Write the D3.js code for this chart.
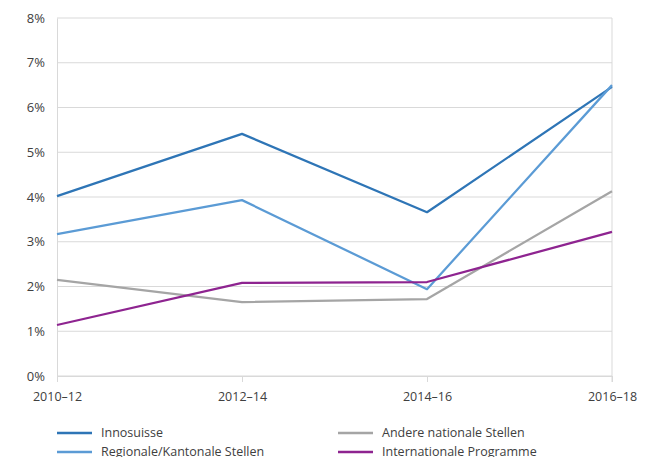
<!DOCTYPE html>
<html>
<head>
<meta charset="utf-8">
<script src="https://cdn.jsdelivr.net/npm/d3@7"></script>
<style>
  body { margin: 0; background: #fff; }
  text { font-family: "Open Sans", sans-serif; fill: #404040; }
</style>
</head>
<body>
<div id="chart"></div>
<script>
// Data
const categories = ['2010–12', '2012–14', '2014–16', '2016–18'];
const seriesNames = ['Innosuisse', 'Regionale/Kantonale Stellen', 'Andere nationale Stellen', 'Internationale Programme'];
const innosuisse = [4.02, 5.41, 3.66, 6.46];
const regionale = [3.17, 3.93, 1.94, 6.50];
const andere = [2.15, 1.65, 1.72, 4.13];
const international = [1.14, 2.08, 2.10, 3.22];
const yTicks = [0, 1, 2, 3, 4, 5, 6, 7, 8];
const colors = ['#2e75b6', '#5b9bd5', '#a5a5a5', '#8e2490'];

const width = 648, height = 457;
const margin = {top: 18, right: 36, bottom: 81, left: 57};

const svg = d3.select('#chart').append('svg')
  .attr('width', width)
  .attr('height', height);

const x = d3.scalePoint()
  .domain(categories)
  .range([margin.left, width - margin.right]);

const y = d3.scaleLinear()
  .domain([0, 8])
  .range([height - margin.bottom, margin.top]);

// gridlines
svg.append('g')
  .selectAll('line')
  .data(yTicks)
  .enter().append('line')
  .attr('x1', margin.left)
  .attr('x2', width - margin.right)
  .attr('y1', d => y(d))
  .attr('y2', d => y(d))
  .attr('stroke', '#d9d9d9')
  .attr('stroke-width', 1);

// y axis
const yAxis = svg.append('g')
  .attr('transform', `translate(${margin.left},0)`)
  .call(d3.axisLeft(y).tickValues(yTicks).tickSize(0).tickPadding(12).tickFormat(d => d + '%'));
yAxis.select('.domain').attr('stroke', '#d9d9d9');
yAxis.selectAll('text').style('font-size', '13px').attr('fill', '#404040');

// right border
svg.append('line')
  .attr('x1', width - margin.right)
  .attr('x2', width - margin.right)
  .attr('y1', margin.top)
  .attr('y2', height - margin.bottom + 6)
  .attr('stroke', '#d9d9d9');

// x axis
const xAxis = svg.append('g')
  .attr('transform', `translate(0,${height - margin.bottom})`)
  .call(d3.axisBottom(x).tickSize(6).tickPadding(10).tickSizeOuter(0));
xAxis.select('.domain').attr('stroke', '#d9d9d9');
xAxis.selectAll('line').attr('stroke', '#d9d9d9');
xAxis.selectAll('text').style('font-size', '12.5px').attr('fill', '#404040');

// lines
const allSeries = [innosuisse, regionale, andere, international];
const line = d3.line()
  .x((d, i) => x(categories[i]))
  .y(d => y(d));

svg.append('g')
  .selectAll('path')
  .data(allSeries)
  .enter().append('path')
  .attr('d', line)
  .attr('fill', 'none')
  .attr('stroke', (d, i) => colors[i])
  .attr('stroke-width', 2.25)
  .attr('stroke-linejoin', 'round');

// legend
const legendPos = [[57, 433], [57, 452], [338, 433], [338, 452]];
const legend = svg.append('g')
  .selectAll('g')
  .data(seriesNames)
  .enter().append('g')
  .attr('transform', (d, i) => `translate(${legendPos[i][0]},${legendPos[i][1]})`);

legend.append('line')
  .attr('x1', 0)
  .attr('x2', 35)
  .attr('stroke', (d, i) => colors[i])
  .attr('stroke-width', 2.5);

legend.append('text')
  .attr('x', 44)
  .attr('dy', '0.35em')
  .style('font-size', '12.5px')
  .text(d => d);
</script>
</body>
</html>
